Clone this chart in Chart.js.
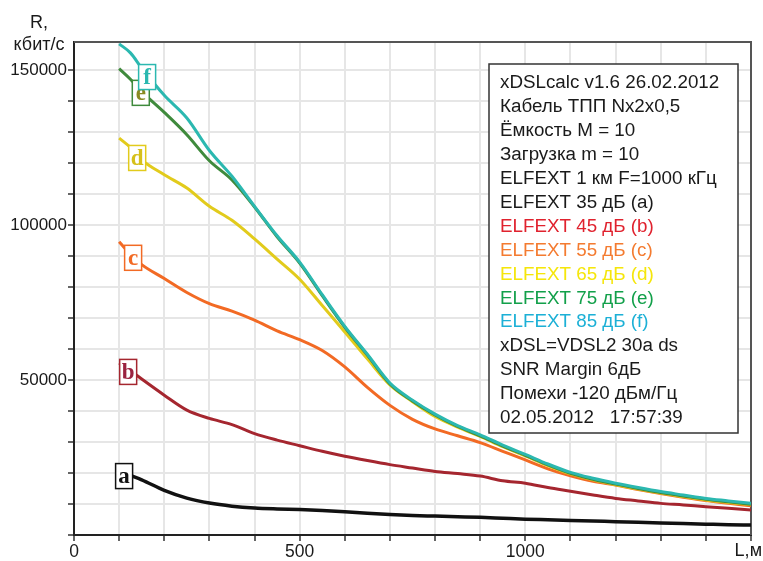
<!DOCTYPE html>
<html>
<head>
<meta charset="utf-8">
<script src="https://cdn.jsdelivr.net/npm/chart.js@4.4.1/dist/chart.umd.min.js"></script>
<style>
html,body{margin:0;padding:0;background:#fff;}
#wrap{width:763px;height:561px;position:relative;}
</style>
</head>
<body>
<div id="wrap"><canvas id="c" width="763" height="561"></canvas></div>
<script>
// Distances, m
const distances = [100,125,150,200,250,300,350,400,450,500,550,600,650,700,750,800,850,900,950,1000,1050,1100,1150,1200,1250,1300,1350,1400,1450,1500];
// Rate, kbit/s
const seriesA = [20500,19200,17800,14400,11900,10300,9300,8700,8400,8200,7900,7500,7000,6600,6300,6100,5900,5700,5400,5100,4900,4700,4500,4300,4100,3900,3700,3500,3300,3200];
const seriesB = [55500,53000,50300,45100,40300,37600,35600,32700,30600,28800,27000,25400,24000,22700,21600,20500,19800,19000,17500,16700,15300,14100,12900,11800,11000,10200,9700,9100,8600,8100];
const seriesC = [94600,90500,87200,82700,78200,74600,72200,69300,65800,63000,59500,54200,47600,41800,37300,34200,32000,29800,27000,24200,21300,19100,17300,16100,14700,13400,12200,11100,10200,9400];
const seriesD = [128000,125000,121000,116200,111900,106000,101500,95500,89000,82500,74000,65500,56800,48400,43000,38200,34800,31800,28500,25500,22400,19700,17800,16200,14800,13500,12400,11300,10500,9800];
const seriesE = [150400,147000,143000,136300,129100,120700,114500,105800,96200,87700,77200,67000,58000,48700,43200,38700,35000,32000,28700,25700,22600,19900,18000,16400,15000,13700,12600,11500,10700,9900];
const seriesF = [158400,155500,150600,141800,134500,124000,115700,106000,96500,88000,77500,67300,58300,49000,43500,39000,35300,32300,29000,26000,22900,20200,18300,16700,15300,14000,12900,11800,11000,10200];
const curveLetters = ['a','b','c','d','e','f'];
// label anchor positions (data units)
const labelX = [111,120,131,140,148,162];
const labelY = [19000,52600,89400,121600,142600,147700];
const xTickLabels = {0:'0',500:'500',1000:'1000'};
const yTickLabels = {50000:'50000',100000:'100000',150000:'150000'};
const legendLines = [
 'xDSLcalc v1.6 26.02.2012',
 'Кабель ТПП Nx2x0,5',
 'Ёмкость M = 10',
 'Загрузка m = 10',
 'ELFEXT 1 км F=1000 кГц',
 'ELFEXT 35 дБ (a)',
 'ELFEXT 45 дБ (b)',
 'ELFEXT 55 дБ (c)',
 'ELFEXT 65 дБ (d)',
 'ELFEXT 75 дБ (e)',
 'ELFEXT 85 дБ (f)',
 'xDSL=VDSL2 30a ds',
 'SNR Margin 6дБ',
 'Помехи -120 дБм/Гц',
 '02.05.2012   17:57:39'
];
const legendColors = ['#1a1a1a','#1a1a1a','#1a1a1a','#1a1a1a','#1a1a1a','#1a1a1a','#e0222e','#f47b30','#f5e60a','#12a04a','#1cb0d6','#1a1a1a','#1a1a1a','#1a1a1a','#1a1a1a'];

const lineColors = ['#111111','#a5262f','#f26a24','#e2cb1c','#3f8a3c','#2bb8b0'];
const letterColors = ['#111111','#9a2340','#f26a24','#d6c01a','#8a8a22','#2bb8b0'];
const allSeries = [seriesA,seriesB,seriesC,seriesD,seriesE,seriesF];

const datasets = allSeries.map((s,i)=>({
  label: curveLetters[i],
  data: distances.map((d,k)=>({x:d,y:s[k]})),
  borderColor: lineColors[i],
  borderWidth: i===0 ? 3.5 : 3,
  pointRadius: 0,
  fill: false,
  cubicInterpolationMode: 'monotone',
  order: 5 - i
}));

const FONT = '"Liberation Sans", Arial, sans-serif';

const decor = {
  id:'decor',
  beforeDatasetsDraw(chart){
    const {ctx, chartArea:a} = chart;
    ctx.save();
    ctx.strokeStyle = '#555';
    ctx.lineWidth = 2;
    ctx.beginPath();
    ctx.moveTo(a.left, a.top);
    ctx.lineTo(a.right, a.top);
    ctx.lineTo(a.right, a.bottom);
    ctx.stroke();
    ctx.restore();
  },
  afterDatasetsDraw(chart){
    const {ctx} = chart;
    const xs = chart.scales.x, ys = chart.scales.y;
    ctx.save();
    // curve labels
    ctx.font = 'bold 23px "Liberation Serif", "DejaVu Serif", serif';
    ctx.textAlign = 'center';
    ctx.textBaseline = 'middle';
    for (let i=0;i<curveLetters.length;i++){
      const cx = xs.getPixelForValue(labelX[i]);
      const cy = ys.getPixelForValue(labelY[i]);
      const w = 17, h = 25;
      ctx.fillStyle = '#fff';
      ctx.fillRect(cx-w/2, cy-h/2, w, h);
      ctx.strokeStyle = lineColors[i];
      ctx.lineWidth = 1.5;
      ctx.strokeRect(cx-w/2, cy-h/2, w, h);
      ctx.fillStyle = letterColors[i];
      ctx.fillText(curveLetters[i], cx, cy+1);
    }
    // legend box
    const bx = 489, by = 64, bw = 249, bh = 369;
    ctx.fillStyle = '#fff';
    ctx.fillRect(bx, by, bw, bh);
    ctx.strokeStyle = '#333';
    ctx.lineWidth = 1.5;
    ctx.strokeRect(bx, by, bw, bh);
    ctx.font = '18.8px ' + FONT;
    ctx.textAlign = 'left';
    ctx.textBaseline = 'middle';
    legendLines.forEach((t,i)=>{
      ctx.fillStyle = legendColors[i];
      ctx.fillText(t, 500, 83 + i*23.93);
    });
    // axis titles
    ctx.fillStyle = '#1a1a1a';
    ctx.font = '18px ' + FONT;
    ctx.textAlign = 'center';
    ctx.textBaseline = 'alphabetic';
    ctx.fillText('R,', 39, 28);
    ctx.fillText('кбит/с', 39, 50);
    ctx.textAlign = 'right';
    ctx.fillText('L,м', 762, 556);
    ctx.restore();
  }
};

new Chart(document.getElementById('c'), {
  type:'line',
  data:{datasets},
  options:{
    responsive:false,
    animation:false,
    devicePixelRatio:1,
    layout:{padding:{left:0,top:42,right:12,bottom:0}},
    plugins:{legend:{display:false},tooltip:{enabled:false}},
    scales:{
      x:{
        type:'linear', min:0, max:1500,
        afterBuildTicks(scale){ const t=[]; for(let v=0; v<=1500; v+=100) t.push({value:v}); scale.ticks=t; },
        afterFit(scale){ scale.height = 26; },
        ticks:{ autoSkip:false, maxRotation:0, padding:1, color:'#1a1a1a',
          font:{family:FONT,size:17.5},
          callback:(v)=> xTickLabels[v] !== undefined ? xTickLabels[v] : '' },
        grid:{ color:'#e6e6e6', lineWidth:2, tickColor:'#333', tickLength:6, tickWidth:1.5 },
        border:{ color:'#222', width:2 }
      },
      y:{
        type:'linear', min:0, max:159000,
        afterBuildTicks(scale){ const t=[]; for(let v=0; v<=150000; v+=10000) t.push({value:v}); scale.ticks=t; },
        afterFit(scale){ scale.width = 74; },
        ticks:{ autoSkip:false, padding:1, color:'#1a1a1a',
          font:{family:FONT,size:17},
          callback:(v)=> yTickLabels[v] !== undefined ? yTickLabels[v] : '' },
        grid:{ color:'#e6e6e6', lineWidth:2, tickColor:'#333', tickLength:6, tickWidth:1.5 },
        border:{ color:'#222', width:2 }
      }
    }
  },
  plugins:[decor]
});
</script>
</body>
</html>
